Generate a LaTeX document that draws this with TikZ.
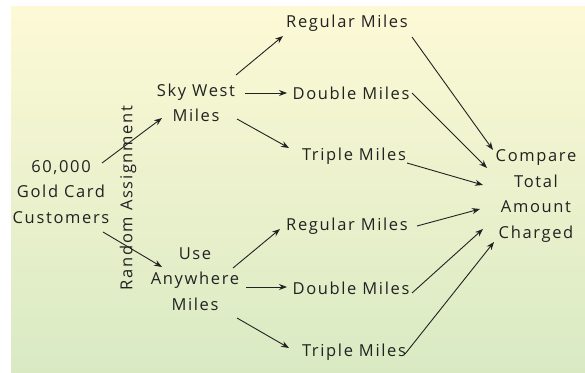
\documentclass[tikz,border=0pt]{standalone}
\usepackage{fontspec}
\setmainfont{Open Sans}[LetterSpace=10]
\usetikzlibrary{arrows.meta}
\definecolor{ink}{HTML}{222222}
\definecolor{panelTop}{HTML}{FDF9D6}
\definecolor{panelBot}{HTML}{D9EAC3}
\begin{document}
\begin{tikzpicture}[x=1pt,y=-1pt,
  lbl/.style={text=ink,align=center,inner sep=0pt,
    font=\fontsize{16.5}{25.5}\selectfont},
  arr/.style={draw=ink,line width=0.9pt,-{Stealth[length=8pt,width=6pt]}}]
  % canvas and shaded panel
  \useasboundingbox[fill=white] (0,0) rectangle (585,372);
  \shade[top color=panelTop,bottom color=panelBot] (11,6) rectangle (585,372);

  % nodes
  \node[lbl] (cust) at (61,192) {60,000\\Gold Card\\Customers};
  \node[lbl,rotate=90] (rand) at (128,198) {Random Assignment};
  \node[lbl] (sky) at (196,103) {Sky West\\Miles};
  \node[lbl] (use) at (195,279) {Use\\Anywhere\\Miles};
  \node[lbl] (reg1) at (347,23) {Regular Miles};
  \node[lbl] (dbl1) at (351,93) {Double Miles};
  \node[lbl] (tri1) at (354,156) {Triple Miles};
  \node[lbl] (reg2) at (347,226) {Regular Miles};
  \node[lbl] (dbl2) at (351,288) {Double Miles};
  \node[lbl] (tri2) at (354,352) {Triple Miles};
  \node[lbl] (cmp) at (536,196) {Compare\\Total\\Amount\\Charged};

  % random assignment
  \draw[arr] ([shift={(41,-29)}]cust.center) -- ([shift={(-34,15)}]sky.center);
  \draw[arr] ([shift={(42,40)}]cust.center) -- ([shift={(-33,-12)}]use.center);

  % treatments
  \draw[arr] ([shift={(40,-28)}]sky.center) -- ([shift={(-64,13)}]reg1.center);
  \draw[arr] ([shift={(49,-10)}]sky.center) -- ([shift={(-64,0)}]dbl1.center);
  \draw[arr] ([shift={(41,16)}]sky.center) -- ([shift={(-65,-8)}]tri1.center);
  \draw[arr] ([shift={(38,-11)}]use.center) -- ([shift={(-67,3)}]reg2.center);
  \draw[arr] ([shift={(51,8)}]use.center) -- ([shift={(-64,-1)}]dbl2.center);
  \draw[arr] ([shift={(42,39)}]use.center) -- ([shift={(-65,-4)}]tri2.center);

  % comparison
  \draw[arr] ([shift={(65,14)}]reg1.center) -- ([shift={(-43,-46)}]cmp.center);
  \draw[arr] ([shift={(61,0)}]dbl1.center) -- ([shift={(-49,-28)}]cmp.center);
  \draw[arr] ([shift={(53,7)}]tri1.center) -- ([shift={(-53,-11)}]cmp.center);
  \draw[arr] ([shift={(70,0)}]reg2.center) -- ([shift={(-56,13)}]cmp.center);
  \draw[arr] ([shift={(61,5)}]dbl2.center) -- ([shift={(-53,33)}]cmp.center);
  \draw[arr] ([shift={(51,2)}]tri2.center) -- ([shift={(-42,46)}]cmp.center);
\end{tikzpicture}
\end{document}
